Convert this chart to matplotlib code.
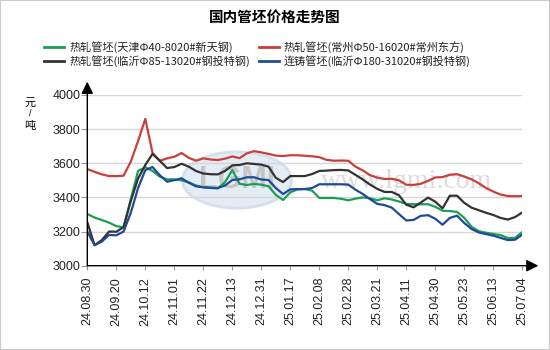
import matplotlib
matplotlib.use("Agg")
import matplotlib.pyplot as plt
import numpy as np
from matplotlib.lines import Line2D
from matplotlib.patches import Ellipse, Rectangle

plt.rcParams['font.family'] = ['Liberation Sans', 'Noto Sans CJK SC', 'DejaVu Sans']
cjk = ['Noto Sans CJK SC', 'DejaVu Sans']

# x axis categories (one tick every 4 sample points)
date_labels = ['24.08.30', '24.09.20', '24.10.12', '24.11.01', '24.11.22', '24.12.13',
               '24.12.31', '25.01.17', '25.02.08', '25.02.28', '25.03.21', '25.04.11',
               '25.04.30', '25.05.23', '25.06.13', '25.07.04']

# prices, 4 samples per tick interval
tianjin = [3303, 3282, 3268, 3252, 3232, 3225, 3390, 3555, 3577, 3555, 3522, 3506,
           3506, 3500, 3488, 3470, 3460, 3455, 3453, 3490, 3560, 3480, 3473, 3479,
           3475, 3465, 3415, 3385, 3430, 3447, 3449, 3440, 3397, 3397, 3397, 3392,
           3383, 3393, 3400, 3395, 3383, 3395, 3388, 3376, 3362, 3360, 3360, 3360,
           3345, 3322, 3320, 3315, 3280, 3228, 3202, 3193, 3186, 3179, 3162, 3163, 3197]
changzhou = [3566, 3550, 3535, 3525, 3525, 3527, 3610, 3730, 3860, 3660, 3614, 3629,
             3638, 3660, 3632, 3615, 3629, 3622, 3619, 3627, 3640, 3630, 3658, 3671,
             3664, 3655, 3645, 3642, 3647, 3647, 3644, 3641, 3636, 3620, 3615, 3616,
             3615, 3580, 3558, 3530, 3516, 3508, 3509, 3500, 3474, 3473, 3480, 3497,
             3517, 3519, 3533, 3536, 3522, 3506, 3483, 3455, 3434, 3417, 3408, 3407, 3408]
linyi_85 = [3255, 3120, 3150, 3200, 3199, 3225, 3380, 3510, 3590, 3655, 3615, 3572,
            3578, 3597, 3580, 3555, 3540, 3536, 3535, 3555, 3588, 3590, 3600, 3596,
            3592, 3580, 3515, 3490, 3525, 3525, 3525, 3537, 3555, 3557, 3560, 3561,
            3558, 3532, 3505, 3475, 3450, 3432, 3432, 3412, 3357, 3342, 3370, 3399,
            3375, 3336, 3410, 3410, 3368, 3340, 3325, 3310, 3297, 3280, 3270, 3285, 3312]
linyi_180 = [3200, 3120, 3141, 3180, 3178, 3200, 3310, 3455, 3560, 3578, 3530, 3492,
             3501, 3512, 3486, 3465, 3459, 3457, 3455, 3470, 3502, 3506, 3518, 3518,
             3505, 3502, 3455, 3420, 3447, 3449, 3449, 3455, 3477, 3477, 3477, 3477,
             3475, 3445, 3420, 3390, 3362, 3355, 3340, 3302, 3265, 3268, 3292, 3296,
             3275, 3240, 3280, 3293, 3250, 3215, 3195, 3185, 3176, 3163, 3150, 3152, 3182]

series_names = ['热轧管坯(天津Φ40-8020#新天钢)', '热轧管坯(常州Φ50-16020#常州东方)',
                '热轧管坯(临沂Φ85-13020#钢投特钢)', '连铸管坯(临沂Φ180-31020#钢投特钢)']
series_values = [tianjin, changzhou, linyi_85, linyi_180]
colors = ['#1a9f52', '#c9403b', '#333333', '#1f4a9c']

x = np.arange(len(tianjin)) / 4.0

fig = plt.figure(figsize=(5.5, 3.5), dpi=100)
fig.add_artist(Rectangle((0, 0), 1, 1, transform=fig.transFigure, fill=False,
                         edgecolor='#cccccc', lw=1.5))
fig.text(0.5, 1 - 17 / 350, '国内管坯价格走势图', ha='center', va='center',
         fontsize=10.5, fontweight='bold', family=cjk)

ax = fig.add_axes([87.3 / 550, 84.3 / 350, 435 / 550, 170.7 / 350])
ax.set_xlim(0, 15)
ax.set_ylim(3000, 4000)

# watermark
ax.add_patch(Ellipse((5.16, 3502), 3.76, 330, facecolor='#e4ecf6', edgecolor='#d5e0ee',
                     lw=2, zorder=0))
ax.text(5.16, 3500, 'LGMI', ha='center', va='center', fontsize=22, fontweight='bold',
        color='#c6c6c6', zorder=0.5)
ax.text(11.0, 3492, 'www.lgmi.com', ha='center', va='center', fontsize=20,
        family='Liberation Serif', color='#dcdcdc', zorder=0.5)

for yv in range(3200, 4001, 200):
    ax.plot([0, 15], [yv, yv], color='#d6d6d6', lw=1, zorder=1)

for vals, c in zip(series_values, colors):
    ax.plot(x, vals, color=c, lw=1.6, zorder=3, solid_capstyle='round',
            solid_joinstyle='round')

for side in ['top', 'right', 'bottom', 'left']:
    ax.spines[side].set_visible(False)

ax.annotate('', xy=(0, 1.078), xytext=(0, 0), xycoords='axes fraction',
            arrowprops=dict(arrowstyle='-|>,head_length=0.6,head_width=0.3', color='black',
                            lw=1, mutation_scale=12, shrinkA=0, shrinkB=0))
ax.annotate('', xy=(1.037, 0), xytext=(0, 0), xycoords='axes fraction',
            arrowprops=dict(arrowstyle='-|>,head_length=0.6,head_width=0.3', color='black',
                            lw=1, mutation_scale=12, shrinkA=0, shrinkB=0))

ax.set_xticks(range(len(date_labels)))
ax.set_xticklabels(date_labels, rotation=90, fontsize=9, color='#222222')
ax.set_yticks(range(3000, 4001, 200))
ax.set_yticklabels([str(v) for v in range(3000, 4001, 200)], fontsize=9, color='#222222')
ax.tick_params(axis='x', length=3, color='#999999', pad=5)
ax.tick_params(axis='y', length=4, color='#999999', pad=1)

# y unit label, stacked vertically
fig.text(30 / 550, 1 - 103 / 350, '元', ha='center', va='center', fontsize=8, family=cjk)
fig.text(30 / 550, 1 - 114 / 350, '/', ha='center', va='center', fontsize=6.5)
fig.text(30 / 550, 1 - 126 / 350, '吨', ha='center', va='center', fontsize=8, family=cjk)

# legend, two columns
leg_pos = [(44, 47), (259, 47), (44, 61), (259, 61)]
for (lx, ly), name, c in zip(leg_pos, series_names, colors):
    fig.add_artist(Line2D([lx / 550, (lx + 20) / 550], [1 - ly / 350, 1 - ly / 350],
                          color=c, lw=2, transform=fig.transFigure))
    fig.text((lx + 25) / 550, 1 - ly / 350, name, ha='left', va='center', fontsize=8,
             family=cjk, color='#222222')

fig.savefig('out.png', dpi=100)
